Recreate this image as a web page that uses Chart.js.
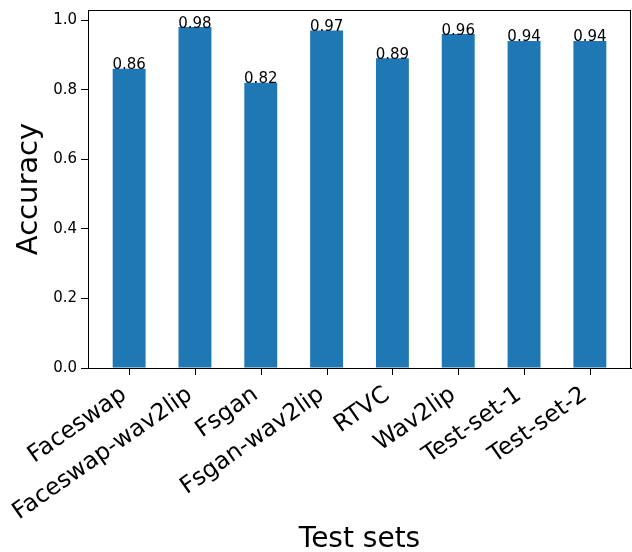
<!DOCTYPE html>
<html>
<head>
<meta charset="utf-8">
<script src="https://cdn.jsdelivr.net/npm/chart.js@4/dist/chart.umd.min.js"></script>
<style>
html,body{margin:0;padding:0;background:#fff;}
canvas{display:block;}
</style>
</head>
<body>
<canvas id="c" width="632" height="552"></canvas>
<script>
const categories = ["Faceswap","Faceswap-wav2lip","Fsgan","Fsgan-wav2lip","RTVC","Wav2lip","Test-set-1","Test-set-2"];
const accuracy = [0.86, 0.98, 0.82, 0.97, 0.89, 0.96, 0.94, 0.94];
const valueLabels = ["0.86","0.98","0.82","0.97","0.89","0.96","0.94","0.94"];
const yTicks = [0.0, 0.2, 0.4, 0.6, 0.8, 1.0];
const yMax = 1.029;
const xLabel = "Test sets";
const yLabel = "Accuracy";

const FONT = "'DejaVu Sans', sans-serif";

const framePlugin = {
  id: 'frame',
  afterDatasetsDraw(chart) {
    const {ctx, chartArea: a} = chart;
    ctx.save();
    ctx.strokeStyle = '#000';
    ctx.lineWidth = 1;
    ctx.strokeRect(Math.round(a.left) + 0.5, Math.round(a.top) + 0.5, Math.round(a.right - a.left) - 1, Math.round(a.bottom - a.top));
    // x tick marks at category positions
    const xs = chart.scales.x;
    ctx.beginPath();
    categories.forEach((c, i) => {
      const px = Math.round(xs.getPixelForValue(i)) + 0.5;
      ctx.moveTo(px, a.bottom);
      ctx.lineTo(px, a.bottom + 7);
    });
    ctx.stroke();
    // value labels
    const meta = chart.getDatasetMeta(0);
    ctx.fillStyle = '#000';
    ctx.font = "15px " + FONT;
    ctx.textAlign = 'center';
    ctx.textBaseline = 'alphabetic';
    meta.data.forEach((el, i) => {
      ctx.fillText(valueLabels[i], el.x, el.y + 0.5);
    });
    ctx.restore();
  }
};

function zeroPad(scale) {
  scale.paddingTop = 0; scale.paddingBottom = 0;
  scale.paddingLeft = 0; scale.paddingRight = 0;
}

new Chart(document.getElementById('c'), {
  type: 'bar',
  data: {
    datasets: [{
      data: accuracy.map((v, i) => ({x: i, y: v})),
      backgroundColor: '#1f77b4',
      borderWidth: 0,
      barPercentage: 0.5,
      categoryPercentage: 1.0
    }]
  },
  options: {
    responsive: false,
    animation: false,
    devicePixelRatio: 1,
    layout: {padding: {top: 10, right: 1, left: 0, bottom: 0}},
    plugins: {legend: {display: false}, tooltip: {enabled: false}},
    scales: {
      x: {
        type: 'linear',
        min: -0.625,
        max: 7.625,
        offset: false,
        afterBuildTicks(scale) { scale.ticks = categories.map((c, i) => ({value: i})); },
        afterFit(scale) { scale.height = 184; zeroPad(scale); },
        grid: {offset: false, drawOnChartArea: false, drawTicks: false, tickLength: 7, color: '#000', lineWidth: 1},
        border: {display: true, color: '#000', width: 1},
        ticks: {
          autoSkip: false,
          minRotation: 35, maxRotation: 35,
          padding: 13,
          labelOffset: -5,
          color: '#000',
          font: {family: FONT, size: 23.5},
          callback: (v) => categories[v]
        },
        title: {display: true, text: xLabel, color: '#000', font: {family: FONT, size: 28, lineHeight: 1}, padding: {top: 0, bottom: -1.5}}
      },
      y: {
        type: 'linear',
        min: 0,
        max: yMax,
        afterBuildTicks(scale) { scale.ticks = yTicks.map(v => ({value: v})); },
        afterFit(scale) { scale.width = 88; zeroPad(scale); },
        grid: {drawOnChartArea: false, drawTicks: true, tickLength: 7, color: '#000', lineWidth: 1},
        border: {display: true, color: '#000', width: 1},
        ticks: {
          padding: 4,
          color: '#000',
          font: {family: FONT, size: 15},
          callback: (v) => Number(v).toFixed(1)
        },
        title: {display: true, text: yLabel, color: '#000', font: {family: FONT, size: 29, lineHeight: 1}, padding: {top: 15, bottom: 0}}
      }
    }
  },
  plugins: [framePlugin]
});
</script>
</body>
</html>
